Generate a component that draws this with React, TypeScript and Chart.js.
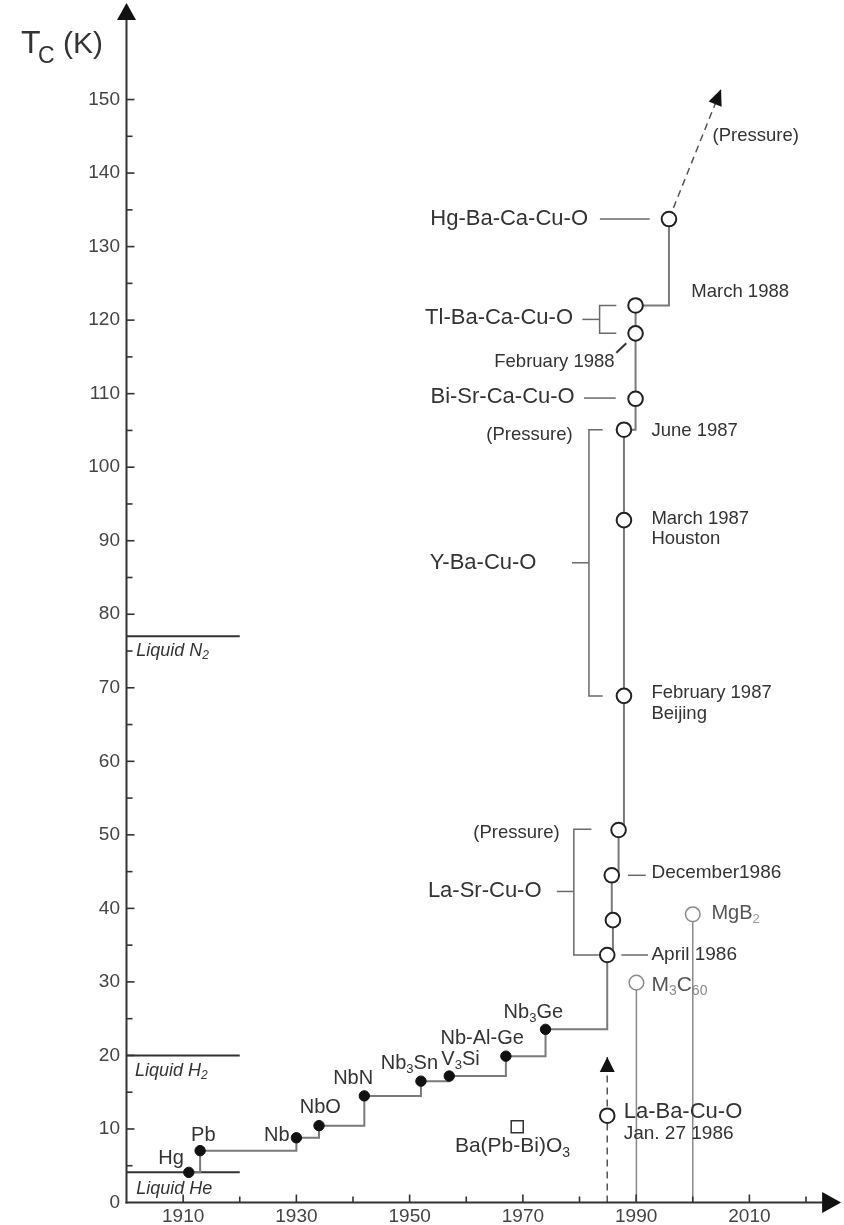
import React, { useEffect, useRef } from "react";
import { Chart, registerables } from "chart.js";

Chart.register(...registerables);

const FONT = '"Liberation Sans", Arial, Helvetica, sans-serif';

// ---- data (year, Tc in K) ----
const stepYears = [1911, 1913, 1930, 1934, 1942, 1952, 1957, 1967, 1974, 1984.9, 1985.9, 1985.7, 1986.9, 1987.85, 1987.85, 1987.85, 1989.9, 1989.9, 1989.9, 1995.8];
const stepTc = [4.1, 7.05, 8.8, 10.45, 14.5, 16.5, 17.2, 19.9, 23.55, 33.66, 38.4, 44.5, 50.66, 68.9, 92.8, 105.1, 109.3, 118.2, 122.0, 133.75];
const stepIsCuprate = [false, false, false, false, false, false, false, false, false, true, true, true, true, true, true, true, true, true, true, true];

const laBaYear = [1984.9];
const laBaTc = [11.8];
const laBaArrowTc = [0, 19.8];
const hgPressureYears = [1995.8, 2005];
const hgPressureTc = [133.75, 151.4];
const baPbBiYear = [1969];
const baPbBiTc = [10.3];
const m3c60Year = [1990.05];
const m3c60Tc = [29.9];
const mgb2Year = [2000];
const mgb2Tc = [39.2];
const liquidYears = [1900, 1920];
const liquidHe = [4.1];
const liquidH2 = [20];
const liquidN2 = [77];

// ---- axes ----
const xMin = 1900;
const xMax = 2020;
const xArrowTip = 2026.2;
const yMin = 0;
const yMax = 163.13;
const xTickLabels = [1910, 1930, 1950, 1970, 1990, 2010];
const xTickMarks = [1910, 1920, 1930, 1940, 1950, 1960, 1970, 1980, 1990, 2000, 2010, 2020];
const yTickLabels = [0, 10, 20, 30, 40, 50, 60, 70, 80, 90, 100, 110, 120, 130, 140, 150];
const yTickMarks = [5, 10, 15, 20, 25, 30, 35, 40, 45, 50, 55, 60, 65, 70, 75, 80, 85, 90, 95, 100, 105, 110, 115, 120, 125, 130, 135, 140, 145, 150];

// ---- annotation texts: parts [text, isSubscript], anchor (year, Tc) ----
type Ann = { parts: [string, number][]; at: [number, number]; size: number; align?: "left" | "right"; color?: string; subColor?: string; italic?: boolean };
const annotations: Ann[] = [
  { parts: [["Hg-Ba-Ca-Cu-O", 0]], at: [1981.5, 133.75], size: 22, align: "right" },
  { parts: [["(Pressure)", 0]], at: [2003.5, 145], size: 18.5 },
  { parts: [["Tl-Ba-Ca-Cu-O", 0]], at: [1978.85, 120.25], size: 22, align: "right" },
  { parts: [["March 1988", 0]], at: [1999.75, 123.9], size: 18.5 },
  { parts: [["February 1988", 0]], at: [1986.2, 114.35], size: 18.5, align: "right" },
  { parts: [["Bi-Sr-Ca-Cu-O", 0]], at: [1979.15, 109.6], size: 22, align: "right" },
  { parts: [["(Pressure)", 0]], at: [1978.8, 104.4], size: 18.5, align: "right" },
  { parts: [["June 1987", 0]], at: [1992.7, 104.9], size: 18.5 },
  { parts: [["Y-Ba-Cu-O", 0]], at: [1972.4, 87.0], size: 22, align: "right" },
  { parts: [["March 1987", 0]], at: [1992.7, 92.9], size: 18.5 },
  { parts: [["Houston", 0]], at: [1992.7, 90.2], size: 18.5 },
  { parts: [["February 1987", 0]], at: [1992.7, 69.25], size: 18.5 },
  { parts: [["Beijing", 0]], at: [1992.7, 66.5], size: 18.5 },
  { parts: [["(Pressure)", 0]], at: [1976.5, 50.2], size: 18.5, align: "right" },
  { parts: [["La-Sr-Cu-O", 0]], at: [1973.3, 42.36], size: 22, align: "right" },
  { parts: [["December1986", 0]], at: [1992.7, 44.85], size: 19 },
  { parts: [["April 1986", 0]], at: [1992.7, 33.66], size: 19 },
  { parts: [["MgB", 0], ["2", 1]], at: [2003.3, 39.33], size: 20, color: "#555", subColor: "#999" },
  { parts: [["M", 0], ["3", 1], ["C", 0], ["60", 1]], at: [1992.7, 29.58], size: 21, color: "#555", subColor: "#888" },
  { parts: [["Nb", 0], ["3", 1], ["Ge", 0]], at: [1966.6, 25.8], size: 20 },
  { parts: [["Nb-Al-Ge", 0]], at: [1955.45, 22.33], size: 20 },
  { parts: [["V", 0], ["3", 1], ["Si", 0]], at: [1955.6, 19.47], size: 20 },
  { parts: [["Nb", 0], ["3", 1], ["Sn", 0]], at: [1944.9, 18.93], size: 20 },
  { parts: [["NbN", 0]], at: [1936.5, 16.9], size: 20 },
  { parts: [["NbO", 0]], at: [1930.6, 12.9], size: 20 },
  { parts: [["Nb", 0]], at: [1924.3, 9.18], size: 20 },
  { parts: [["Pb", 0]], at: [1911.4, 9.08], size: 20 },
  { parts: [["Hg", 0]], at: [1905.6, 5.96], size: 20 },
  { parts: [["La-Ba-Cu-O", 0]], at: [1987.8, 12.35], size: 22 },
  { parts: [["Jan. 27 1986", 0]], at: [1987.8, 9.41], size: 19 },
  { parts: [["Ba(Pb-Bi)O", 0], ["3", 1]], at: [1958.0, 7.59], size: 21 },
  { parts: [["Liquid He", 0]], at: [1901.7, 1.84], size: 18, italic: true },
  { parts: [["Liquid H", 0], ["2", 1]], at: [1901.5, 17.92], size: 18, italic: true },
  { parts: [["Liquid N", 0], ["2", 1]], at: [1901.7, 75.04], size: 18, italic: true },
];

// bracket and leader polylines (year, Tc)
const connectors: [number, number][][] = [
  [[1986.5, 122.0], [1983.55, 122.0], [1983.55, 118.2], [1986.5, 118.2]],
  [[1980.5, 120.1], [1983.55, 120.1]],
  [[1984.1, 105.1], [1981.67, 105.1], [1981.67, 68.9], [1984.1, 68.9]],
  [[1978.67, 87.0], [1981.67, 87.0]],
  [[1982.1, 50.75], [1979.0, 50.75], [1979.0, 33.66], [1983.4, 33.66]],
  [[1976.0, 42.3], [1979.0, 42.3]],
  [[1983.6, 133.75], [1992.4, 133.75]],
  [[1980.8, 109.4], [1986.4, 109.4]],
  [[1988.55, 44.5], [1991.7, 44.5]],
  [[1987.4, 33.66], [1992.1, 33.66]],
];
const feb1988Tick: [number, number][] = [[1986.5, 115.57], [1988.27, 116.85]];

function arrowHead(ctx: CanvasRenderingContext2D, tx: number, ty: number, fx: number, fy: number, len: number, half: number) {
  const a = Math.atan2(ty - fy, tx - fx);
  const bx = tx - len * Math.cos(a);
  const by = ty - len * Math.sin(a);
  ctx.beginPath();
  ctx.moveTo(tx, ty);
  ctx.lineTo(bx + half * Math.sin(a), by - half * Math.cos(a));
  ctx.lineTo(bx - half * Math.sin(a), by + half * Math.cos(a));
  ctx.closePath();
  ctx.fill();
}

function drawRich(ctx: CanvasRenderingContext2D, ann: Ann, px: number, py: number) {
  const it = ann.italic ? "italic " : "";
  const main = `${it}${ann.size}px ${FONT}`;
  const subSize = Math.round(ann.size * 0.66);
  const sub = `${it}${subSize}px ${FONT}`;
  const widths = ann.parts.map(([t, s]) => {
    ctx.font = s ? sub : main;
    return ctx.measureText(t).width;
  });
  const total = widths.reduce((a, b) => a + b, 0);
  let cx = ann.align === "right" ? px - total : px;
  ctx.textAlign = "left";
  ctx.textBaseline = "middle";
  ann.parts.forEach(([t, s], i) => {
    ctx.font = s ? sub : main;
    ctx.fillStyle = s ? ann.subColor || ann.color || "#333" : ann.color || "#333";
    ctx.fillText(t, cx, s ? py + ann.size * 0.3 : py);
    cx += widths[i];
  });
}

const decorPlugin = {
  id: "decor",
  afterDraw(chart: any) {
    const { ctx, scales } = chart;
    const xs = scales.x;
    const ys = scales.y;
    const X = (v: number) => xs.getPixelForValue(v);
    const Y = (v: number) => ys.getPixelForValue(v);
    const x0 = X(xMin);
    const y0 = Y(yMin);
    ctx.save();

    // connectors / brackets
    ctx.strokeStyle = "#6a6a6a";
    ctx.lineWidth = 1.5;
    connectors.forEach((pl) => {
      ctx.beginPath();
      pl.forEach(([a, b], i) => (i ? ctx.lineTo(X(a), Y(b)) : ctx.moveTo(X(a), Y(b))));
      ctx.stroke();
    });
    ctx.strokeStyle = "#333";
    ctx.lineWidth = 2;
    ctx.beginPath();
    ctx.moveTo(X(feb1988Tick[0][0]), Y(feb1988Tick[0][1]));
    ctx.lineTo(X(feb1988Tick[1][0]), Y(feb1988Tick[1][1]));
    ctx.stroke();

    // arrow heads on dashed lines
    ctx.fillStyle = "#111";
    arrowHead(ctx, X(laBaYear[0]), Y(laBaArrowTc[1]), X(laBaYear[0]), Y(laBaArrowTc[0]), 15, 7.5);
    arrowHead(ctx, X(hgPressureYears[1]), Y(hgPressureTc[1]), X(hgPressureYears[0]), Y(hgPressureTc[0]), 16, 7);

    // axes
    ctx.strokeStyle = "#333";
    ctx.lineWidth = 2;
    ctx.beginPath();
    ctx.moveTo(x0, y0 + 1);
    ctx.lineTo(x0, Y(yMax) + 12);
    ctx.stroke();
    ctx.fillStyle = "#111";
    arrowHead(ctx, x0, Y(yMax), x0, y0, 17, 9.5);
    ctx.beginPath();
    ctx.moveTo(x0 - 1, y0);
    ctx.lineTo(X(xArrowTip) - 12, y0);
    ctx.stroke();
    arrowHead(ctx, X(xArrowTip), y0, x0, y0, 19, 10.5);

    // tick marks (inward)
    ctx.lineWidth = 1.6;
    yTickMarks.forEach((v) => {
      const len = yTickLabels.includes(v) ? 8 : 6;
      ctx.beginPath();
      ctx.moveTo(x0, Y(v));
      ctx.lineTo(x0 + len, Y(v));
      ctx.stroke();
    });
    xTickMarks.forEach((v) => {
      const len = xTickLabels.includes(v) ? 8 : 6;
      ctx.beginPath();
      ctx.moveTo(X(v), y0);
      ctx.lineTo(X(v), y0 - len);
      ctx.stroke();
    });

    // axis title T_C (K)
    ctx.fillStyle = "#333";
    ctx.textAlign = "left";
    ctx.textBaseline = "alphabetic";
    ctx.font = `32px ${FONT}`;
    ctx.fillText("T", 21, 53);
    ctx.font = `23px ${FONT}`;
    ctx.fillText("C", 38, 63);
    ctx.font = `30px ${FONT}`;
    ctx.fillText("(K)", 63, 53);

    // annotations
    annotations.forEach((a) => drawRich(ctx, a, X(a.at[0]), Y(a.at[1])));
    ctx.restore();
  },
};

export default function App() {
  const ref = useRef<HTMLCanvasElement>(null);
  useEffect(() => {
    document.body.style.margin = "0";
    const openR = 7.3;
    const datasets: any[] = [
      {
        data: stepYears.map((x, i) => ({ x, y: stepTc[i] })),
        showLine: true,
        stepped: "before",
        borderColor: "#7a7a7a",
        borderWidth: 2,
        pointRadius: stepIsCuprate.map((c) => (c ? openR : 5.2)),
        pointBackgroundColor: stepIsCuprate.map((c) => (c ? "#ffffff" : "#111111")),
        pointBorderColor: stepIsCuprate.map((c) => (c ? "#222222" : "#111111")),
        pointBorderWidth: stepIsCuprate.map((c) => (c ? 2 : 1)),
        order: 0,
      },
      {
        data: laBaArrowTc.map((y) => ({ x: laBaYear[0], y })),
        showLine: true,
        borderColor: "#555",
        borderWidth: 1.5,
        borderDash: [7, 5],
        pointRadius: 0,
        order: 3,
      },
      {
        data: hgPressureYears.map((x, i) => ({ x, y: hgPressureTc[i] })),
        showLine: true,
        borderColor: "#555",
        borderWidth: 1.5,
        borderDash: [7, 5],
        pointRadius: 0,
        order: 3,
      },
      {
        data: laBaYear.map((x, i) => ({ x, y: laBaTc[i] })),
        pointRadius: openR,
        pointBackgroundColor: "#fff",
        pointBorderColor: "#222",
        pointBorderWidth: 2,
        order: 0,
      },
      {
        data: [{ x: m3c60Year[0], y: 0 }, { x: m3c60Year[0], y: m3c60Tc[0] }],
        showLine: true,
        borderColor: "#8a8a8a",
        borderWidth: 1.5,
        pointRadius: [0, openR],
        pointBackgroundColor: "#fff",
        pointBorderColor: "#8a8a8a",
        pointBorderWidth: 1.5,
        order: 1,
      },
      {
        data: [{ x: mgb2Year[0], y: 0 }, { x: mgb2Year[0], y: mgb2Tc[0] }],
        showLine: true,
        borderColor: "#8a8a8a",
        borderWidth: 1.5,
        pointRadius: [0, openR],
        pointBackgroundColor: "#fff",
        pointBorderColor: "#8a8a8a",
        pointBorderWidth: 1.5,
        order: 1,
      },
      {
        data: baPbBiYear.map((x, i) => ({ x, y: baPbBiTc[i] })),
        pointStyle: "rect",
        pointRadius: 8.5,
        pointBackgroundColor: "#fff",
        pointBorderColor: "#333",
        pointBorderWidth: 1.5,
        order: 0,
      },
      ...[liquidHe, liquidH2, liquidN2].map((lv) => ({
        data: liquidYears.map((x) => ({ x, y: lv[0] })),
        showLine: true,
        borderColor: "#333",
        borderWidth: 2,
        pointRadius: 0,
        order: 2,
      })),
    ];

    const tickFont = { family: FONT, size: 19 };
    const chart = new Chart(ref.current as HTMLCanvasElement, {
      type: "scatter",
      data: { datasets },
      options: {
        animation: false,
        responsive: false,
        devicePixelRatio: 1,
        events: [],
        layout: { autoPadding: false, padding: { top: 3, right: 38, left: 0, bottom: 0 } },
        plugins: { legend: { display: false }, tooltip: { enabled: false } },
        scales: {
          x: {
            type: "linear",
            min: xMin,
            max: xMax,
            grid: { display: false, drawTicks: false },
            border: { display: false },
            afterBuildTicks: (s: any) => {
              s.ticks = xTickLabels.map((v) => ({ value: v }));
            },
            afterFit: (s: any) => {
              s.height = 22.5;
              s.paddingLeft = 0;
              s.paddingRight = 0;
            },
            ticks: {
              autoSkip: false,
              maxRotation: 0,
              padding: 3,
              color: "#444",
              font: tickFont,
              callback: (v: any) => String(v),
            },
          },
          y: {
            type: "linear",
            min: yMin,
            max: yMax,
            grid: { display: false, drawTicks: false },
            border: { display: false },
            afterBuildTicks: (s: any) => {
              s.ticks = yTickLabels.map((v) => ({ value: v }));
            },
            afterFit: (s: any) => {
              s.width = 126.5;
              s.paddingTop = 0;
              s.paddingBottom = 0;
            },
            ticks: {
              autoSkip: false,
              padding: 6.5,
              color: "#444",
              font: tickFont,
              callback: (v: any) => String(v),
            },
          },
        },
      } as any,
      plugins: [decorPlugin],
    });
    return () => chart.destroy();
  }, []);

  return (
    <div style={{ position: "absolute", left: 0, top: 0, width: 844, height: 1225 }}>
      <canvas ref={ref} width={844} height={1225} style={{ display: "block" }} />
    </div>
  );
}
